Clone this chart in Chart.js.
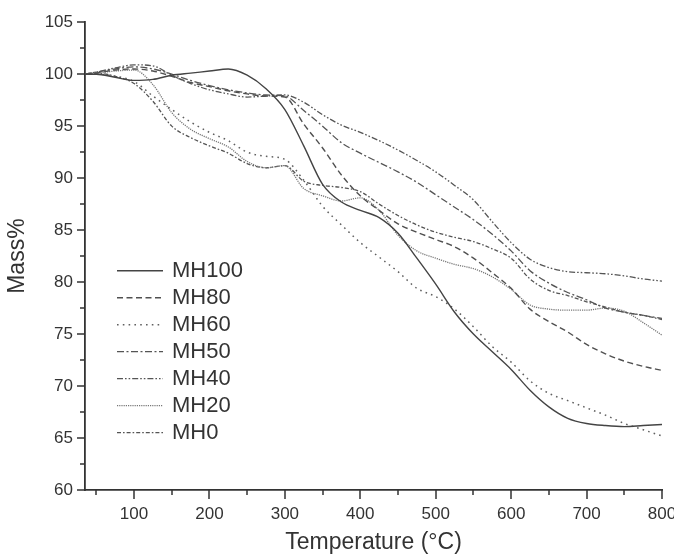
<!DOCTYPE html>
<html>
<head>
<meta charset="utf-8">
<script src="https://cdn.jsdelivr.net/npm/chart.js@4.4.0/dist/chart.umd.min.js"></script>
<style>
  html, body { margin: 0; padding: 0; background: #fff; }
  #wrap { width: 674px; height: 554px; }
</style>
</head>
<body>
<div id="wrap"><canvas id="tgaGraph" width="674" height="554"></canvas></div>
<script>
// temperatures (°C)
const temps = [35, 50, 75, 100, 125, 150, 175, 200, 225, 250, 275, 300, 325, 350, 375, 400,
               425, 450, 475, 500, 525, 550, 575, 600, 625, 650, 675, 700, 725, 750, 775, 800];

const mh100 = [100, 100, 99.7, 99.4, 99.5, 99.9, 100.1, 100.3, 100.5, 99.9, 98.6, 96.6, 93.1, 89.4, 87.7, 86.9,
               86.2, 84.7, 82.3, 79.8, 77.1, 75.0, 73.3, 71.6, 69.6, 68.0, 66.9, 66.4, 66.2, 66.1, 66.2, 66.3];
const mh80  = [100, 100.1, 100.4, 100.5, 100.3, 99.8, 99.2, 98.8, 98.4, 98.1, 97.9, 97.8, 95.2, 92.9, 90.3, 88.3,
               86.9, 85.6, 84.8, 84.1, 83.4, 82.3, 80.9, 79.4, 77.4, 76.2, 75.2, 74.0, 73.1, 72.4, 71.9, 71.5];
const mh60  = [100, 100, 99.8, 99.3, 97.9, 96.6, 95.4, 94.4, 93.6, 92.5, 92.1, 91.8, 89.8, 87.3, 85.5, 83.8,
               82.4, 81.0, 79.4, 78.6, 77.4, 75.7, 73.8, 72.3, 70.5, 69.3, 68.6, 67.9, 67.2, 66.4, 65.8, 65.2];
const mh50  = [100, 100.2, 100.5, 100.7, 100.5, 100.0, 99.4, 98.9, 98.5, 98.2, 98.0, 97.9, 96.5, 95.0, 93.4, 92.4,
               91.5, 90.6, 89.6, 88.4, 87.2, 86.0, 84.6, 83.0, 81.1, 79.9, 79.0, 78.3, 77.5, 77.1, 76.8, 76.5];
const mh40  = [100, 100.2, 100.6, 100.9, 100.8, 99.9, 99.1, 98.5, 98.1, 97.8, 97.9, 98.0, 97.3, 96.1, 95.1, 94.4,
               93.6, 92.7, 91.7, 90.6, 89.3, 87.9, 85.8, 83.8, 82.2, 81.4, 81.0, 80.9, 80.8, 80.6, 80.3, 80.1];
const mh20  = [100, 100.1, 100.3, 100.4, 99.0, 96.3, 94.7, 93.8, 93.0, 91.6, 91.0, 91.2, 89.0, 88.3, 87.8, 88.1,
               86.9, 84.5, 83.0, 82.3, 81.7, 81.3, 80.5, 79.3, 77.8, 77.4, 77.3, 77.3, 77.5, 77.2, 76.1, 74.9];
const mh0   = [100, 100.1, 99.8, 99.1, 97.4, 95.0, 93.9, 93.1, 92.4, 91.4, 91.0, 91.2, 89.7, 89.3, 89.1, 88.7,
               87.5, 86.4, 85.5, 84.8, 84.3, 83.9, 83.2, 82.3, 80.3, 79.2, 78.7, 78.1, 77.6, 77.1, 76.8, 76.4];

const seriesNames = ['MH100', 'MH80', 'MH60', 'MH50', 'MH40', 'MH20', 'MH0'];
const seriesValues = [mh100, mh80, mh60, mh50, mh40, mh20, mh0];

const xTickLabels = [100, 200, 300, 400, 500, 600, 700, 800];
const xMinorTicks = [50, 150, 250, 350, 450, 550, 650, 750];
const yMinorTicks = [62.5, 67.5, 72.5, 77.5, 82.5, 87.5, 92.5, 97.5, 102.5];

const lineStyles = [
  { color: '#444', dash: [], width: 1.4 },
  { color: '#505050', dash: [6, 3.5], width: 1.4 },
  { color: '#606060', dash: [1.6, 4.2], width: 1.5 },
  { color: '#555', dash: [7, 2.5, 2, 2.5], width: 1.3 },
  { color: '#555', dash: [6, 2, 1.6, 2, 1.6, 2], width: 1.3 },
  { color: '#777', dash: [1.2, 1], width: 1.3 },
  { color: '#555', dash: [4, 2, 1.6, 2], width: 1.3 }
];

const FONT = "'Liberation Sans', Arial, sans-serif";
const AXIS = '#333';

const datasets = seriesNames.map((name, i) => ({
  label: name,
  data: temps.map((t, j) => ({ x: t, y: seriesValues[i][j] })),
  borderColor: lineStyles[i].color,
  borderDash: lineStyles[i].dash,
  borderWidth: lineStyles[i].width,
  pointRadius: 0,
  fill: false,
  cubicInterpolationMode: 'monotone'
}));

// tick marks drawn outside the axes, long for majors, short for minors
const tickMarks = {
  id: 'tickMarks',
  afterDraw(chart) {
    const { ctx, chartArea, scales } = chart;
    ctx.save();
    ctx.strokeStyle = AXIS;
    ctx.lineWidth = 1.5;
    ctx.beginPath();
    xTickLabels.forEach(v => {
      const px = Math.round(scales.x.getPixelForValue(v));
      ctx.moveTo(px, chartArea.bottom); ctx.lineTo(px, chartArea.bottom + 9);
    });
    xMinorTicks.forEach(v => {
      const px = Math.round(scales.x.getPixelForValue(v));
      ctx.moveTo(px, chartArea.bottom); ctx.lineTo(px, chartArea.bottom + 5);
    });
    scales.y.ticks.forEach(t => {
      const py = Math.round(scales.y.getPixelForValue(t.value));
      ctx.moveTo(chartArea.left, py); ctx.lineTo(chartArea.left - 8, py);
    });
    yMinorTicks.forEach(v => {
      const py = Math.round(scales.y.getPixelForValue(v));
      ctx.moveTo(chartArea.left, py); ctx.lineTo(chartArea.left - 5, py);
    });
    ctx.stroke();
    ctx.restore();
  }
};

// legend sits inside the plot, lower left
const innerLegend = {
  id: 'innerLegend',
  afterDatasetsDraw(chart) {
    const { ctx, chartArea } = chart;
    const x0 = chartArea.left + 32;
    const y0 = chartArea.top + 248;
    ctx.save();
    chart.data.datasets.forEach((ds, i) => {
      const y = y0 + i * 27;
      ctx.strokeStyle = ds.borderColor;
      ctx.lineWidth = ds.borderWidth;
      ctx.setLineDash(ds.borderDash);
      ctx.beginPath();
      ctx.moveTo(x0, y + 0.5);
      ctx.lineTo(x0 + 46, y + 0.5);
      ctx.stroke();
      ctx.setLineDash([]);
      ctx.fillStyle = '#333';
      ctx.font = '22px ' + FONT;
      ctx.textBaseline = 'middle';
      ctx.textAlign = 'left';
      ctx.fillText(ds.label, x0 + 55, y + 1);
    });
    ctx.restore();
  }
};

const config = {
  type: 'line',
  data: { datasets: datasets },
  options: {
    responsive: false,
    animation: false,
    layout: { padding: { top: 20, right: 12, bottom: 0, left: 0 } },
    plugins: { legend: { display: false }, tooltip: { enabled: false } },
    scales: {
      x: {
        type: 'linear',
        min: 35,
        max: 800,
        afterBuildTicks: s => { s.ticks = xTickLabels.map(v => ({ value: v })); },
        afterFit: s => { s.height = 64; s.paddingRight = 12; s.paddingLeft = 0; },
        grid: { display: false, drawTicks: false },
        border: { display: true, color: AXIS, width: 1.8 },
        ticks: { color: '#333', padding: 14, maxRotation: 0, font: { family: FONT, size: 17 } },
        title: { display: true, text: 'Temperature (°C)', color: '#333',
                 font: { family: FONT, size: 23, lineHeight: 1 }, padding: { top: 0, bottom: 0 } }
      },
      y: {
        min: 60,
        max: 105,
        afterFit: s => { s.width = 85; },
        grid: { display: false, drawTicks: false },
        border: { display: true, color: AXIS, width: 1.8 },
        ticks: { stepSize: 5, color: '#333', padding: 12, font: { family: FONT, size: 17 } },
        title: { display: true, text: 'Mass%', color: '#333',
                 font: { family: FONT, size: 23, lineHeight: 1.2 }, padding: { top: 4, bottom: 0 } }
      }
    }
  },
  plugins: [tickMarks, innerLegend]
};

var tgaChart = new Chart(document.getElementById('tgaGraph'), config);
</script>
</body>
</html>
